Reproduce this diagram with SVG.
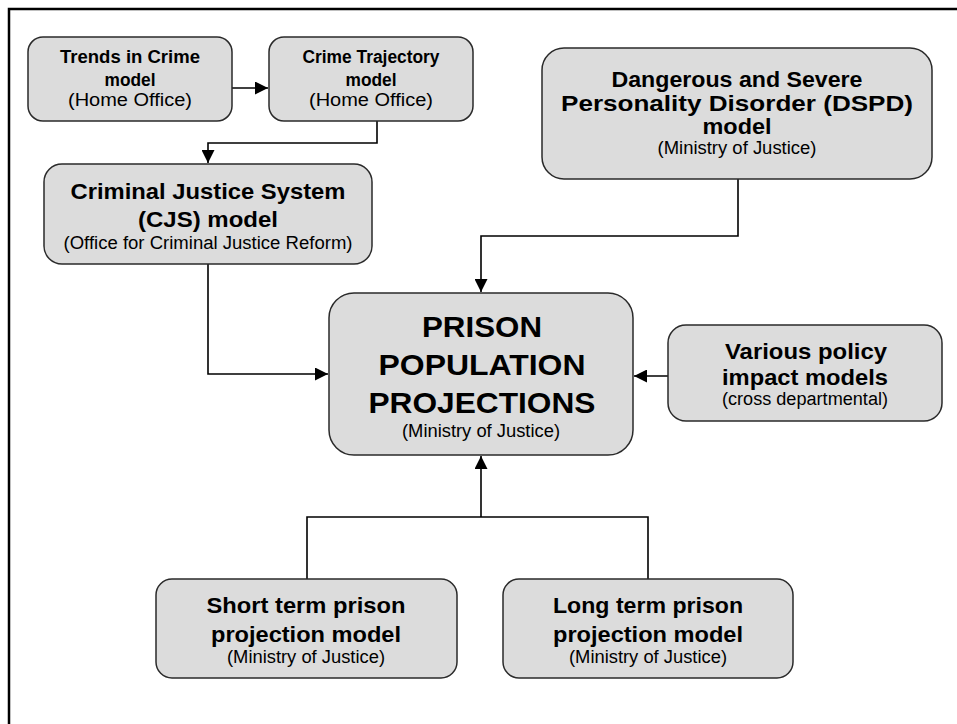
<svg xmlns="http://www.w3.org/2000/svg" width="957" height="724" viewBox="0 0 957 724">
<style>
.box{fill:#dcdcdc;stroke:#2a2a2a;stroke-width:1.5}
.c{fill:none;stroke:#000;stroke-width:1.6}
text{font-family:"Liberation Sans",Arial,sans-serif;fill:#000;text-anchor:middle}
.b{font-weight:bold}
.s{font-size:17.5px}
.m{font-size:22px}
.l{font-size:30px}
.r{font-size:18px}
</style>
<defs>
<marker id="ah" markerUnits="userSpaceOnUse" markerWidth="14" markerHeight="13" refX="13" refY="6.5" orient="auto">
<path d="M0,0 L13,6.5 L0,13 z" fill="#000"/>
</marker>
</defs>
<rect width="957" height="724" fill="#fff"/>
<path d="M9,724 V9 H957" fill="none" stroke="#000" stroke-width="2.5"/>

<g id="connectors">
<path class="c" d="M232,88 H268" marker-end="url(#ah)"/>
<path class="c" d="M377,121 V143 H208 V163" marker-end="url(#ah)"/>
<path class="c" d="M208,264 V374 H328" marker-end="url(#ah)"/>
<path class="c" d="M738,179 V236 H481 V292" marker-end="url(#ah)"/>
<path class="c" d="M668,376 H634" marker-end="url(#ah)"/>
<path class="c" d="M307,579 V517 H648 V579"/>
<path class="c" d="M481,517 V456" marker-end="url(#ah)"/>
</g>

<g id="trends">
<rect class="box" x="28" y="37" width="204" height="84" rx="15"/>
<text x="130" y="63" class="b s" textLength="140" lengthAdjust="spacingAndGlyphs">Trends in Crime</text>
<text x="130" y="86" class="b s" textLength="51" lengthAdjust="spacingAndGlyphs">model</text>
<text x="130" y="106" class="r" textLength="124" lengthAdjust="spacingAndGlyphs">(Home Office)</text>
</g>

<g id="trajectory">
<rect class="box" x="269" y="37" width="204" height="84" rx="15"/>
<text x="371" y="63" class="b s" textLength="137" lengthAdjust="spacingAndGlyphs">Crime Trajectory</text>
<text x="371" y="86" class="b s" textLength="51" lengthAdjust="spacingAndGlyphs">model</text>
<text x="371" y="106" class="r" textLength="124" lengthAdjust="spacingAndGlyphs">(Home Office)</text>
</g>

<g id="cjs">
<rect class="box" x="44" y="164" width="328" height="100" rx="18"/>
<text x="208" y="199" class="b m" textLength="275" lengthAdjust="spacingAndGlyphs">Criminal Justice System</text>
<text x="208" y="227" class="b m" textLength="140" lengthAdjust="spacingAndGlyphs">(CJS) model</text>
<text x="208" y="249" class="r" textLength="289" lengthAdjust="spacingAndGlyphs">(Office for Criminal Justice Reform)</text>
</g>

<g id="dspd">
<rect class="box" x="542" y="48" width="390" height="131" rx="22"/>
<text x="737" y="87" class="b m" textLength="251" lengthAdjust="spacingAndGlyphs">Dangerous and Severe</text>
<text x="737" y="111" class="b m" textLength="352" lengthAdjust="spacingAndGlyphs">Personality Disorder (DSPD)</text>
<text x="737" y="134" class="b m" textLength="69" lengthAdjust="spacingAndGlyphs">model</text>
<text x="737" y="154" class="r" textLength="159" lengthAdjust="spacingAndGlyphs">(Ministry of Justice)</text>
</g>

<g id="prison">
<rect class="box" x="329" y="293" width="304" height="162" rx="25"/>
<text x="482" y="337" class="b l" textLength="120" lengthAdjust="spacingAndGlyphs">PRISON</text>
<text x="482" y="375" class="b l" textLength="207" lengthAdjust="spacingAndGlyphs">POPULATION</text>
<text x="482" y="413" class="b l" textLength="227" lengthAdjust="spacingAndGlyphs">PROJECTIONS</text>
<text x="481" y="437" class="r" textLength="158" lengthAdjust="spacingAndGlyphs">(Ministry of Justice)</text>
</g>

<g id="policy">
<rect class="box" x="668" y="325" width="274" height="96" rx="18"/>
<text x="806" y="359" class="b m" textLength="162" lengthAdjust="spacingAndGlyphs">Various policy</text>
<text x="805" y="385" class="b m" textLength="166" lengthAdjust="spacingAndGlyphs">impact models</text>
<text x="805" y="405" class="r" textLength="166" lengthAdjust="spacingAndGlyphs">(cross departmental)</text>
</g>

<g id="shortterm">
<rect class="box" x="156" y="579" width="301" height="99" rx="16"/>
<text x="306" y="613" class="b m" textLength="199" lengthAdjust="spacingAndGlyphs">Short term prison</text>
<text x="306" y="642" class="b m" textLength="190" lengthAdjust="spacingAndGlyphs">projection model</text>
<text x="306" y="663" class="r" textLength="158" lengthAdjust="spacingAndGlyphs">(Ministry of Justice)</text>
</g>

<g id="longterm">
<rect class="box" x="503" y="579" width="290" height="99" rx="16"/>
<text x="648" y="613" class="b m" textLength="190" lengthAdjust="spacingAndGlyphs">Long term prison</text>
<text x="648" y="642" class="b m" textLength="190" lengthAdjust="spacingAndGlyphs">projection model</text>
<text x="648" y="663" class="r" textLength="158" lengthAdjust="spacingAndGlyphs">(Ministry of Justice)</text>
</g>
</svg>
